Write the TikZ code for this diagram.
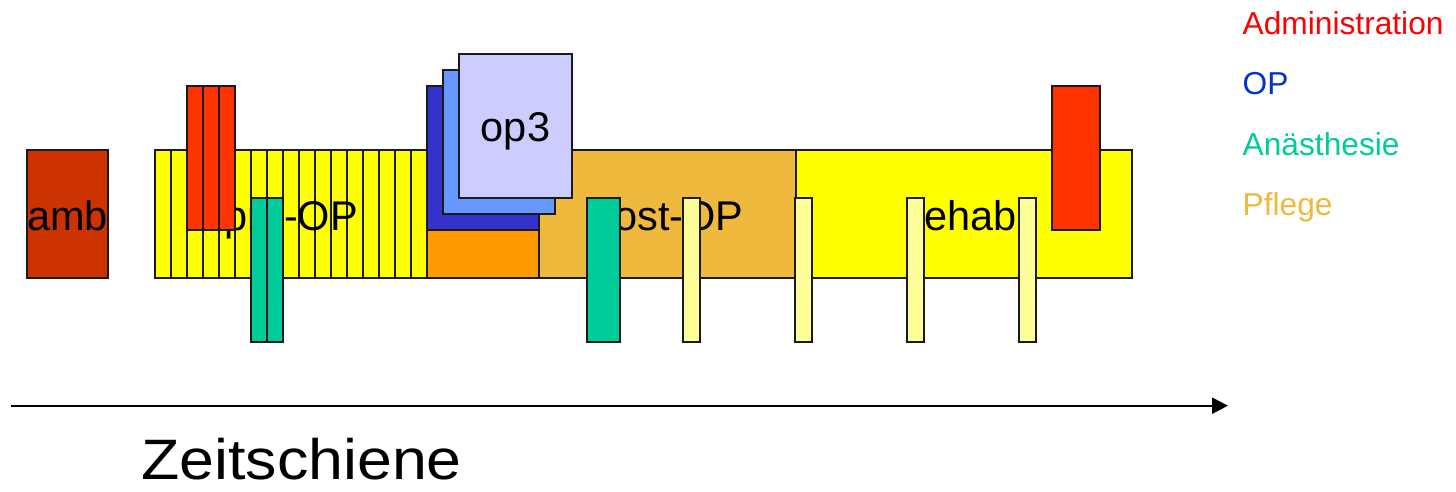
\documentclass[tikz,border=0pt]{standalone}
\usepackage{fontspec}
\setmainfont{Liberation Sans}
\usetikzlibrary{arrows.meta}
\definecolor{ambc}{HTML}{CC3300}
\definecolor{yel}{HTML}{FFFF00}
\definecolor{adm}{HTML}{FF3300}
\definecolor{ana}{HTML}{00CC99}
\definecolor{opA}{HTML}{3333CC}
\definecolor{opB}{HTML}{6699FF}
\definecolor{opC}{HTML}{CCCCFF}
\definecolor{orng}{HTML}{FF9900}
\definecolor{pfl}{HTML}{EEB93C}
\definecolor{lyel}{HTML}{FFFF99}
\definecolor{edge}{HTML}{1A1A1A}
\definecolor{legred}{HTML}{FF0000}
\definecolor{legblue}{HTML}{0033CC}
\newcommand\gbox[5]{\draw[bx,fill=#1] (#2,#3) rectangle (#4,#5);}
\begin{document}
\begin{tikzpicture}[x=1pt,y=-1pt,
  bx/.style={draw=edge,line width=2pt},
  lbl/.style={inner sep=0pt,anchor=base,font=\fontsize{41.5}{48}\selectfont},
  leg/.style={inner sep=0pt,anchor=base west,font=\fontsize{31.7}{38}\selectfont},
  axis/.style={line width=2.2pt,-{Triangle[length=16pt,width=16pt]}}]
\useasboundingbox (0,0) rectangle (1456,492);
% pre-OP striped bar
\foreach \i in {0,...,16}{
  \gbox{yel}{155+16*\i}{150}{171+16*\i}{278}
}
% amb
\gbox{ambc}{27}{150}{108}{278}
% post-OP and rehab bars
\gbox{pfl}{539.3}{150}{795.5}{278}
\gbox{yel}{795.5}{150}{1131.7}{278}
% labels under overlays
\node[lbl] (amb) at (67.5,230) {amb};
\node[lbl] (preop) at (291,230) {pre-OP};
\node[lbl] (postop) at (667.5,230) {post-OP};
\node[lbl] (rehab) at (963.5,230) {rehab};
% OP stack
\gbox{orng}{427.3}{230}{539.3}{278}
\gbox{opA}{427.3}{85.7}{539.3}{230}
\gbox{opB}{443.3}{70}{555.3}{214}
\gbox{opC}{459.3}{54}{571.7}{198}
\node[lbl] (op3) at (515.5,141.7) {op3};
% administration (left, three stripes)
\foreach \i in {0,1,2}{
  \gbox{adm}{187+16*\i}{85.7}{203+16*\i}{230}
}
% anaesthesia
\foreach \i in {0,1}{
  \gbox{ana}{251+16*\i}{198}{267+16*\i}{342.3}
}
\gbox{ana}{587.3}{198}{619.7}{342.3}
% care
\foreach \x in {683.3,795.3,907.3,1019.3}{
  \gbox{lyel}{\x}{198}{\x+16.2}{342.3}
}
% administration right
\gbox{adm}{1051.7}{85.7}{1100}{230}
% legend
\node[leg,text=legred] (lAdm) at (1242.5,35) {Administration};
\node[leg,text=legblue] (lOP) at (1242.5,95) {OP};
\node[leg,text=ana] (lAna) at (1242.5,155.5) {Anästhesie};
\node[leg,text=pfl] (lPfl) at (1242.5,215.5) {Pflege};
% time axis
\coordinate (t0) at (10.7,405.7);
\coordinate (t1) at (1228,405.7);
\draw[axis] (t0) -- (t1);
\node[inner sep=0pt,anchor=base west,font=\fontsize{57}{66}\selectfont] (zeit) at (141,479) {\scalebox{1.1}[1]{Zeitschiene}};
\end{tikzpicture}
\end{document}
